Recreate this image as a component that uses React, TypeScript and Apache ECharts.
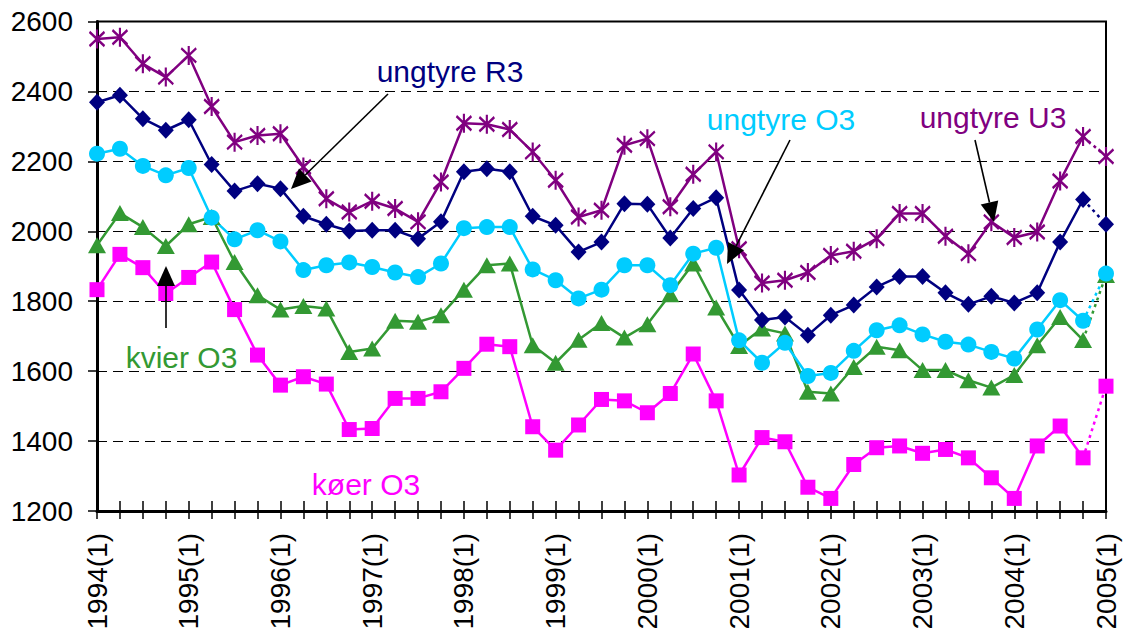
import React, { useEffect, useRef } from "react";
import * as echarts from "echarts";

const YEARS = [1994, 1995, 1996, 1997, 1998, 1999, 2000, 2001, 2002, 2003, 2004, 2005];
const QUARTERS = [1, 2, 3, 4];
const CATEGORIES: string[] = YEARS.flatMap((y) =>
  y === 2005 ? [`${y}(1)`] : QUARTERS.map((q) => `${y}(${q})`)
);

const UNGTYRE_U3 = [
  2550, 2555, 2479, 2441, 2503, 2357, 2255, 2274, 2279, 2184, 2093, 2055, 2086, 2065, 2027,
  2141, 2309, 2306, 2291, 2227, 2146, 2041, 2060, 2246, 2265, 2070, 2163, 2227, 1950, 1852,
  1860, 1882, 1931, 1943, 1979, 2051, 2051, 1986, 1936, 2027, 1982, 1998, 2144, 2271, 2214,
];
const UNGTYRE_R3 = [
  2369, 2389, 2322, 2289, 2319, 2191, 2115, 2136, 2122, 2043, 2020, 2001, 2003, 2003, 1979,
  2027, 2170, 2179, 2170, 2043, 2017, 1941, 1969, 2079, 2077, 1981, 2065, 2096, 1832, 1746,
  1755, 1703, 1760, 1789, 1841, 1871, 1871, 1824, 1791, 1814, 1795, 1824, 1969, 2091, 2020,
];
const UNGTYRE_O3 = [
  2222, 2236, 2187, 2160, 2181, 2039, 1977, 2003, 1971, 1889, 1903, 1911, 1898, 1882, 1869,
  1908, 2009, 2012, 2012, 1891, 1860, 1808, 1833, 1903, 1903, 1846, 1936, 1953, 1688, 1624,
  1681, 1586, 1595, 1658, 1717, 1731, 1705, 1684, 1676, 1655, 1636, 1719, 1803, 1744, 1879,
];
const KVIER_O3 = [
  1960, 2052, 2012, 1958, 2020, 2041, 1912, 1817, 1776, 1786, 1779, 1655, 1665, 1744, 1741,
  1760, 1833, 1903, 1908, 1674, 1624, 1690, 1738, 1696, 1734, 1820, 1908, 1782, 1672, 1722,
  1708, 1541, 1536, 1612, 1670, 1660, 1603, 1603, 1574, 1553, 1589, 1674, 1755, 1689, 1875,
];
const KOER_O3 = [
  1833, 1934, 1896, 1822, 1868, 1912, 1776, 1646, 1560, 1584, 1563, 1433, 1436, 1522, 1522,
  1541, 1608, 1677, 1670, 1441, 1374, 1446, 1519, 1515, 1481, 1536, 1649, 1515, 1303, 1410,
  1398, 1268, 1236, 1333, 1381, 1386, 1365, 1376, 1352, 1295, 1236, 1386, 1443, 1352, 1557,
];

const FONT = '"Liberation Sans", Arial, Helvetica, sans-serif';
const ASTERISK = "path://M0 2L12 14M12 2L0 14M6 0L6 16";

type SeriesDef = {
  name: string;
  data: number[];
  color: string;
  symbol: string;
  size: number | number[];
  stroke?: boolean;
};

const SERIES: SeriesDef[] = [
  { name: "køer O3", data: KOER_O3, color: "#FF00FF", symbol: "rect", size: 15 },
  { name: "kvier O3", data: KVIER_O3, color: "#339933", symbol: "triangle", size: [18, 16] },
  { name: "ungtyre O3", data: UNGTYRE_O3, color: "#00CCFF", symbol: "circle", size: 16 },
  { name: "ungtyre R3", data: UNGTYRE_R3, color: "#000080", symbol: "diamond", size: [16, 17] },
  { name: "ungtyre U3", data: UNGTYRE_U3, color: "#800080", symbol: ASTERISK, size: [15, 19], stroke: true },
];

function buildSeries(def: SeriesDef) {
  const n = def.data.length;
  const itemStyle = def.stroke
    ? { color: def.color, borderColor: def.color, borderWidth: 2.4 }
    : { color: def.color, borderWidth: 0 };
  const common = {
    type: "line",
    symbol: def.symbol,
    symbolSize: def.size,
    showSymbol: true,
    showAllSymbol: true,
    itemStyle,
    emphasis: { disabled: true },
    silent: true,
  };
  const main = {
    ...common,
    name: def.name,
    data: def.data.map((v, i) => (i < n - 1 ? v : null)),
    lineStyle: { color: def.color, width: 2.5 },
  };
  const tail = {
    ...common,
    name: def.name + " tail",
    data: def.data.map((v, i) =>
      i === n - 2 ? { value: v, symbol: "none" } : i === n - 1 ? v : null
    ),
    lineStyle: { color: def.color, width: 2.5, type: [3, 4] },
  };
  return [main, tail];
}

function arrow(x1: number, y1: number, x2: number, y2: number) {
  const len = 20;
  const half = 9;
  const dx = x2 - x1;
  const dy = y2 - y1;
  const d = Math.sqrt(dx * dx + dy * dy);
  const ux = dx / d;
  const uy = dy / d;
  const bx = x2 - ux * len;
  const by = y2 - uy * len;
  const px = -uy;
  const py = ux;
  return [
    {
      type: "line",
      z: 100,
      shape: { x1, y1, x2: bx, y2: by },
      style: { stroke: "#000", lineWidth: 1.6 },
    },
    {
      type: "polygon",
      z: 100,
      shape: {
        points: [
          [x2, y2],
          [bx + px * half, by + py * half],
          [bx - px * half, by - py * half],
        ],
      },
      style: { fill: "#000" },
    },
  ];
}

function label(text: string, x: number, y: number, color: string) {
  return {
    type: "text",
    z: 100,
    x,
    y,
    style: {
      text,
      fill: color,
      font: `30px ${FONT}`,
      align: "center",
      verticalAlign: "middle",
    },
  };
}

export default function App() {
  const ref = useRef<HTMLDivElement>(null);

  useEffect(() => {
    if (!ref.current) return;
    const chart = echarts.init(ref.current, undefined, { renderer: "svg" });
    const option = {
      animation: false,
      backgroundColor: "#fff",
      grid: {
        left: 97,
        right: 22,
        top: 21.5,
        bottom: 123,
        show: true,
        borderColor: "#000",
        borderWidth: 2,
        backgroundColor: "transparent",
      },
      xAxis: [
        {
          type: "category",
          data: CATEGORIES,
          boundaryGap: false,
          axisLine: { show: true, lineStyle: { color: "#000", width: 3 } },
          axisTick: {
            show: true,
            interval: 0,
            inside: false,
            length: 8,
            lineStyle: { color: "#000", width: 1.5 },
          },
          axisLabel: {
            interval: 3,
            rotate: 90,
            margin: 22,
            color: "#000",
            fontSize: 28,
            fontFamily: FONT,
          },
          splitLine: { show: false },
        },
        {
          type: "category",
          data: CATEGORIES,
          boundaryGap: false,
          position: "bottom",
          axisLine: { show: false },
          axisTick: {
            show: true,
            interval: 0,
            inside: true,
            length: 10,
            lineStyle: { color: "#000", width: 1.5 },
          },
          axisLabel: { show: false },
          splitLine: { show: false },
        },
      ],
      yAxis: {
        type: "value",
        min: 1200,
        max: 2600,
        interval: 200,
        axisLine: { show: true, lineStyle: { color: "#000", width: 3 } },
        axisTick: { show: true, length: 9, lineStyle: { color: "#000", width: 1.5 } },
        axisLabel: {
          color: "#000",
          fontSize: 28,
          fontFamily: FONT,
          margin: 24,
          formatter: (v: number) => String(v),
        },
        splitLine: { show: true, lineStyle: { color: "#000", width: 1.2, type: [10, 6] } },
      },
      series: SERIES.flatMap(buildSeries),
      graphic: [
        label("ungtyre R3", 450, 71.5, "#000080"),
        label("ungtyre O3", 781, 119.5, "#00CCFF"),
        label("ungtyre U3", 993, 117.5, "#800080"),
        label("kvier O3", 181.5, 357.5, "#339933"),
        label("køer O3", 366, 484.5, "#FF00FF"),
        ...arrow(388, 94, 291, 189),
        ...arrow(790, 140, 727, 264),
        ...arrow(975, 140, 994, 222),
        ...arrow(166, 328, 166, 266),
      ],
    };
    chart.setOption(option as any);
    return () => chart.dispose();
  }, []);

  return (
    <div
      ref={ref}
      style={{ position: "absolute", left: 0, top: 0, width: 1128, height: 634, background: "#fff" }}
    />
  );
}
